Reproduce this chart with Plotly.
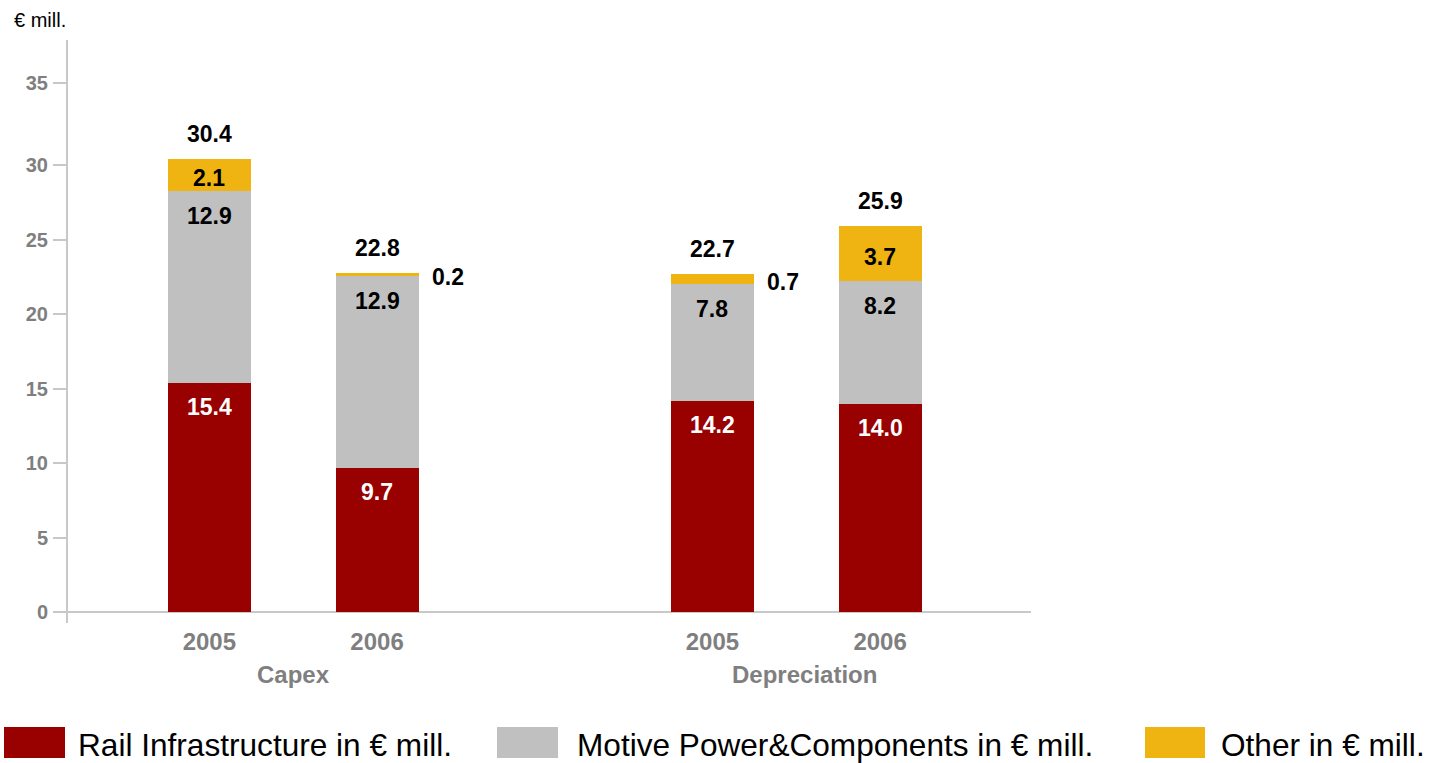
import plotly.graph_objects as go

# ---- data ----
groups = ["Capex", "Capex", "Depreciation", "Depreciation"]
years = ["2005", "2006", "2005", "2006"]
rail = [15.4, 9.7, 14.2, 14.0]
motive = [12.9, 12.9, 7.8, 8.2]
other = [2.1, 0.2, 0.7, 3.7]
totals = [30.4, 22.8, 22.7, 25.9]
series_names = ["Rail Infrastructure in € mill.", "Motive Power&Components in € mill.", "Other in € mill."]
y_ticks = [0, 5, 10, 15, 20, 25, 30, 35]
unit_label = "€ mill."

# ---- style ----
W, H = 1432, 763
L, R, T, B = 68, 401, 40, 140
PW, PH = W - L - R, H - T - B
FONT = "Arial, Liberation Sans, sans-serif"
C_RAIL, C_MOTIVE, C_OTHER = "#990000", "#C0C0C0", "#EFB412"
C_AXIS, C_TICK = "#C8C8C8", "#7F7F7F"
BAR_W = 0.495

def px_x(p):
    return (p - L) / PW

def px_y(p):
    return (H - B - p) / PH

# x positions: categories within a group, one empty slot between groups
group_order = list(dict.fromkeys(groups))
xpos = [i + 1 + group_order.index(g) for i, g in enumerate(groups)]

fig = go.Figure()
for vals, name, col in zip([rail, motive, other], series_names, [C_RAIL, C_MOTIVE, C_OTHER]):
    fig.add_trace(go.Bar(x=xpos, y=vals, name=name, marker=dict(color=col, line=dict(width=0)),
                         width=BAR_W, showlegend=False, hoverinfo="y"))

ann = []
lab_font = dict(family=FONT, size=23, weight="bold")
for i, x in enumerate(xpos):
    ann.append(dict(x=x, y=rail[i], text=f"{rail[i]:.1f}", showarrow=False, yanchor="middle",
                    yshift=-24, font=dict(lab_font, color="white")))
    ann.append(dict(x=x, y=rail[i] + motive[i], text=f"{motive[i]:.1f}", showarrow=False,
                    yanchor="middle", yshift=-25, font=dict(lab_font, color="black")))
    base = rail[i] + motive[i]
    small = other[i] < 1.5
    ann.append(dict(x=x, y=base + other[i] / 2, text=f"{other[i]:.1f}", showarrow=False,
                    yanchor="middle", yshift=-3, xshift=71 if small else 0,
                    font=dict(lab_font, color="black")))
    ann.append(dict(x=x, y=totals[i], text=f"{totals[i]:.1f}", showarrow=False,
                    yanchor="middle", yshift=25, font=dict(lab_font, color="black")))

# group labels
for g in group_order:
    xs = [xpos[i] for i in range(len(groups)) if groups[i] == g]
    ann.append(dict(x=sum(xs) / len(xs), xref="x", y=px_y(674), yref="paper", text=g,
                    showarrow=False, yanchor="middle", xshift=0 if g == group_order[0] else 8,
                    font=dict(family=FONT, size=24, weight="bold", color=C_TICK)))

# unit label
ann.append(dict(x=px_x(12), y=px_y(20), xref="paper", yref="paper", text=unit_label,
                showarrow=False, xanchor="left", yanchor="middle",
                font=dict(family=FONT, size=20, color="black")))

# manual legend
shapes = [dict(type="line", xref="paper", yref="y", x0=0, x1=1, y0=0, y1=0,
               line=dict(color=C_AXIS, width=2), layer="below")]
leg_rects = [(4, 65, 76), (497, 558, 575), (1145, 1205, 1219)]
for (x0, x1, tx), name, col in zip(leg_rects, series_names, [C_RAIL, C_MOTIVE, C_OTHER]):
    shapes.append(dict(type="rect", xref="paper", yref="paper", x0=px_x(x0), x1=px_x(x1),
                       y0=px_y(758), y1=px_y(727), fillcolor=col, line=dict(width=0)))
    ann.append(dict(x=px_x(tx), y=px_y(745), xref="paper", yref="paper", text=name,
                    showarrow=False, xanchor="left", yanchor="middle",
                    font=dict(family=FONT, size=31.6, color="black")))

ytick_pos = [v if v < 35 else 35.55 for v in y_ticks]

fig.update_layout(
    width=W, height=H, autosize=False,
    margin=dict(l=L, r=R, t=T, b=B, pad=0),
    plot_bgcolor="white", paper_bgcolor="white",
    barmode="stack", bargap=0,
    font=dict(family=FONT),
    annotations=ann, shapes=shapes,
    showlegend=False,
    xaxis=dict(range=[0.157, 5.90], tickvals=xpos, ticktext=years, showgrid=False,
               zeroline=False, showline=False, ticks="", ticklabelstandoff=2,
               tickfont=dict(family=FONT, size=24, weight="bold", color=C_TICK)),
    yaxis=dict(range=[-0.74, 38.42], tickvals=ytick_pos, ticktext=[str(v) for v in y_ticks],
               showgrid=False, zeroline=False, showline=True, linecolor=C_AXIS, linewidth=2,
               ticks="outside", ticklen=13, tickwidth=2, tickcolor=C_AXIS, ticklabelstandoff=1,
               tickfont=dict(family=FONT, size=20, weight="bold", color=C_TICK)),
)

fig.write_html("out.html")
